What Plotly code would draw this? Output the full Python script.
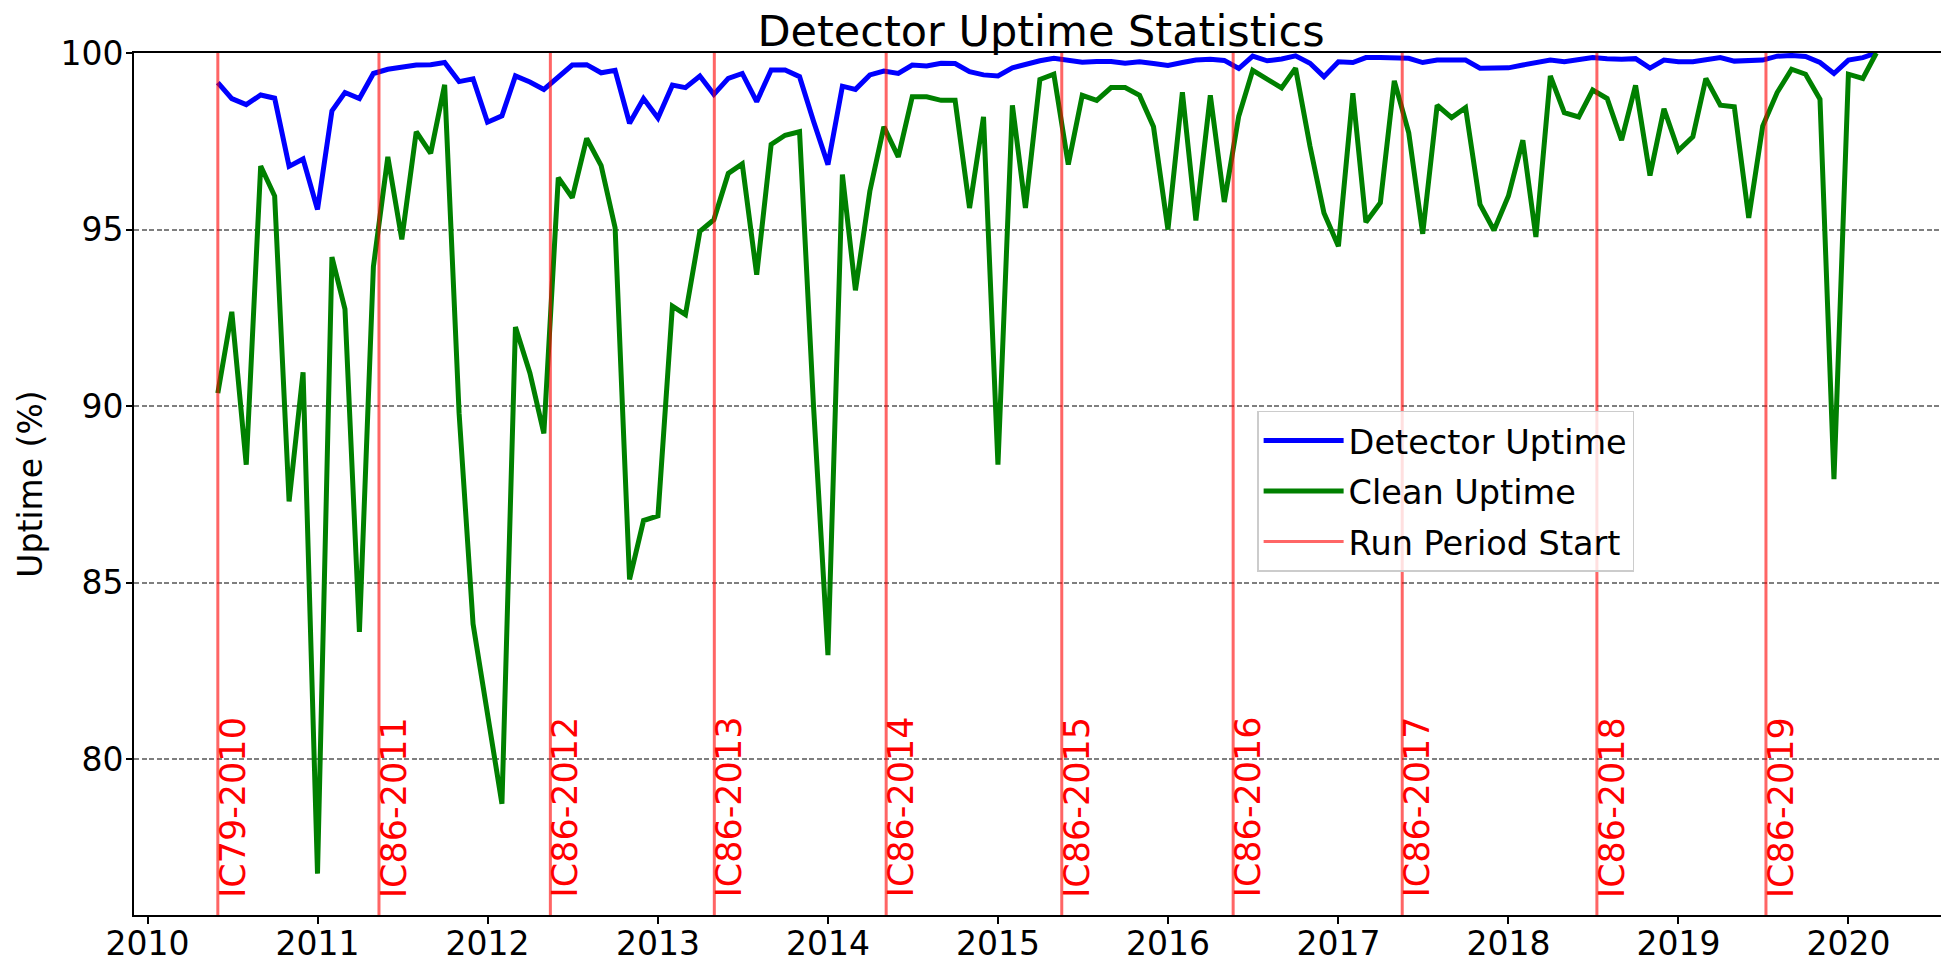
import pandas as pd
import plotly.graph_objects as go

# ---- data ----
months = pd.date_range("2010-06-01", periods=118, freq="MS")

detector_uptime = [
    99.16, 98.71, 98.54, 98.81, 98.72, 96.79, 97.00, 95.57, 98.36, 98.88,
    98.71, 99.42, 99.54, 99.61, 99.66, 99.67, 99.73, 99.19, 99.27, 98.04,
    98.22, 99.35, 99.18, 98.97, 99.30, 99.66, 99.67, 99.44, 99.51, 98.01,
    98.71, 98.16, 99.09, 99.02, 99.35, 98.83, 99.28, 99.42, 98.62, 99.52,
    99.52, 99.33, 98.07, 96.84, 99.06, 98.97, 99.38, 99.49, 99.42, 99.66,
    99.63, 99.71, 99.70, 99.47, 99.38, 99.35, 99.58, 99.68, 99.78, 99.85,
    99.80, 99.74, 99.76, 99.76, 99.71, 99.75, 99.70, 99.65, 99.73, 99.80,
    99.82, 99.79, 99.56, 99.91, 99.78, 99.83, 99.92, 99.71, 99.33, 99.75,
    99.73, 99.87, 99.87, 99.87, 99.85, 99.73, 99.80, 99.80, 99.80, 99.57,
    99.56, 99.58, 99.66, 99.73, 99.80, 99.75, 99.80, 99.87, 99.84, 99.82,
    99.84, 99.57, 99.80, 99.75, 99.75, 99.82, 99.87, 99.77, 99.77, 99.80,
    99.91, 99.93, 99.90, 99.73, 99.42, 99.80, 99.87, 100.0,
]

clean_uptime = [
    90.37, 92.67, 88.34, 96.80, 95.95, 87.30, 90.96, 76.76, 94.22, 92.75,
    83.61, 93.95, 97.06, 94.72, 97.77, 97.16, 99.10, 89.80, 83.83, 81.20,
    78.74, 92.24, 90.94, 89.23, 96.47, 95.90, 97.58, 96.81, 95.05, 85.09,
    86.76, 86.89, 92.83, 92.59, 94.95, 95.28, 96.59, 96.86, 93.72, 97.41,
    97.67, 97.77, 90.00, 82.95, 96.56, 93.28, 96.09, 97.91, 97.06, 98.76,
    98.76, 98.66, 98.66, 95.61, 98.19, 88.34, 98.52, 95.61, 99.25, 99.40,
    96.84, 98.80, 98.66, 99.02, 99.02, 98.80, 97.91, 95.00, 98.89, 95.26,
    98.80, 95.78, 98.21, 99.51, 99.25, 99.01, 99.57, 97.36, 95.47, 94.53,
    98.86, 95.21, 95.76, 99.21, 97.74, 94.88, 98.52, 98.17, 98.45, 95.71,
    94.98, 95.95, 97.53, 94.79, 99.35, 98.31, 98.19, 98.95, 98.71, 97.53,
    99.08, 96.53, 98.42, 97.24, 97.63, 99.28, 98.52, 98.48, 95.33, 97.93,
    98.88, 99.54, 99.40, 98.69, 87.93, 99.40, 99.28, 100.0,
]

run_starts = ["2010-06-01", "2011-05-13", "2012-05-15", "2013-05-02", "2014-05-06",
              "2015-05-18", "2016-05-20", "2017-05-18", "2018-07-10", "2019-07-08"]
run_names = ["IC79-2010", "IC86-2011", "IC86-2012", "IC86-2013", "IC86-2014",
             "IC86-2015", "IC86-2016", "IC86-2017", "IC86-2018", "IC86-2019"]

year_ticks = [f"{y}-01-01" for y in range(2010, 2021)]
year_labels = [str(y) for y in range(2010, 2021)]
y_ticks = [80, 85, 90, 95, 100]

FONT = "DejaVu Sans"
W, H = 1941, 960  # page body has an 8px margin

fig = go.Figure()

fig.add_trace(go.Scatter(x=months, y=detector_uptime, mode="lines", name="Detector Uptime",
                         line=dict(color="#0000ff", width=5), legendrank=1, legendgroup="a"))
fig.add_trace(go.Scatter(x=months, y=clean_uptime, mode="lines", name="Clean Uptime",
                         line=dict(color="#008000", width=5), legendrank=2, legendgroup="b"))

for i, (d, n) in enumerate(zip(run_starts, run_names)):
    fig.add_shape(type="line", xref="x", yref="paper", x0=d, x1=d, y0=0, y1=1,
                  line=dict(color="red", width=3), opacity=0.6, layer="above",
                  showlegend=(i == 0), name="Run Period Start", legendrank=3,
                  legendgroup="c")
    fig.add_annotation(x=d, y=76.05, xref="x", yref="y", text=n, textangle=-90,
                       showarrow=False, xanchor="left", yanchor="bottom",
                       font=dict(family=FONT, size=35, color="red"), xshift=-6,
                       borderpad=0)

fig.update_layout(
    width=W, height=H,
    margin=dict(l=126, r=0, t=45, b=53, autoexpand=False),
    paper_bgcolor="white", plot_bgcolor="white",
    font=dict(family=FONT, size=33, color="black"),
    title=dict(text="Detector Uptime Statistics", font=dict(family=FONT, size=43, color="black"),
               x=1033 / W, xanchor="center", xref="container",
               y=1 - 23 / H, yanchor="middle", yref="container"),
    showlegend=True,
    legend=dict(x=0.6188, y=0.585, xanchor="left", yanchor="top",
                bgcolor="rgba(255,255,255,0.8)", bordercolor="#cccccc", borderwidth=1.5,
                font=dict(family=FONT, size=33.5, color="black"), itemwidth=80,
                traceorder="grouped", tracegroupgap=4),
)

fig.update_xaxes(
    type="date", range=["2009-12-03", "2020-08-04"],
    tickmode="array", tickvals=year_ticks, ticktext=year_labels,
    showgrid=False, zeroline=False,
    showline=True, linecolor="black", linewidth=1.6, mirror=True,
    ticks="outside", ticklen=7, tickwidth=1.6, tickcolor="black",
    tickfont=dict(family=FONT, size=33, color="black"), ticklabelstandoff=-8,
)
fig.update_yaxes(
    range=[75.59, 100], tickmode="array", tickvals=y_ticks,
    showgrid=True, gridcolor="#7f7f7f", gridwidth=1.5, griddash="5px,2.5px",
    zeroline=False, showline=True, linecolor="black", linewidth=1.6, mirror=False,
    ticks="outside", ticklen=6, tickwidth=1.6, tickcolor="black",
    tickfont=dict(family=FONT, size=33, color="black"), ticklabelstandoff=-4,
    title=dict(text="Uptime (%)", font=dict(family=FONT, size=33, color="black"), standoff=8),
)

fig.write_html("out.html")
